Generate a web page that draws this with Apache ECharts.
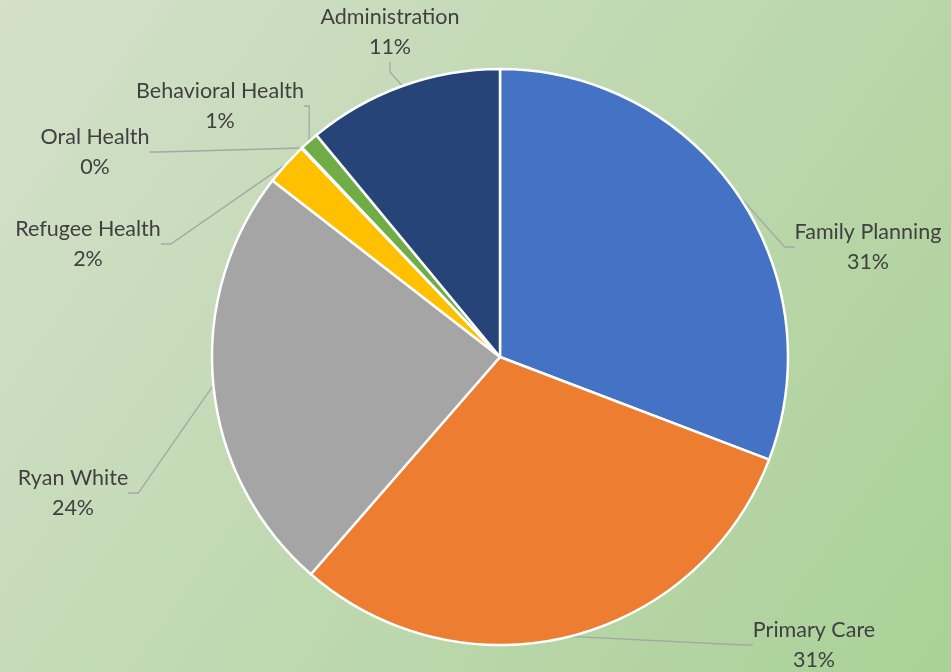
<!DOCTYPE html>
<html>
<head>
<meta charset="utf-8">
<script src="https://cdn.jsdelivr.net/npm/echarts@6/dist/echarts.min.js"></script>
<style>
html,body{margin:0;padding:0;}
#chart{width:951px;height:672px;}
</style>
</head>
<body>
<div id="chart"></div>
<script>
const categories = ['Family Planning','Primary Care','Ryan White','Refugee Health','Oral Health','Behavioral Health','Administration'];
const values = [30.8, 30.6, 24.1, 2.4, 0.05, 1.05, 11.0];
const colors = ['#4472C4','#ED7D31','#A5A5A5','#FFC000','#5B9BD5','#70AD47','#264478'];
// label block centres (layout only)
const labelSpots = [[868,247],[814,645],[73,493],[88,244],[95,152],[220,106],[390,32]];

const chart = echarts.init(document.getElementById('chart'), null, {renderer:'canvas'});
chart.setOption({
  animation:false,
  backgroundColor: new echarts.graphic.LinearGradient(0,0,1,1,[
    {offset:0,color:'#d4e0ca'},
    {offset:1,color:'#aad197'}
  ]),
  series:[{
    type:'pie',
    center:[500,357],
    radius:[0,288],
    startAngle:90,
    clockwise:true,
    minAngle:0,
    avoidLabelOverlap:false,
    itemStyle:{borderColor:'#ffffff',borderWidth:2.5},
    data: categories.map((c,i)=>({name:c,value:values[i],itemStyle:{color:colors[i]}})),
    label:{
      show:true,
      formatter: p => p.name + '\n' + Math.round(p.percent) + '%',
      color:'#404040',
      fontFamily:'Lato',
      fontSize:21.5,
      lineHeight:30,
      align:'center'
    },
    labelLine:{show:true,length:20,length2:10,lineStyle:{color:'#a6a6a6',width:1.3}},
    labelLayout: function(params){
      const p = labelSpots[params.dataIndex];
      return {x:p[0], y:p[1], align:'center', verticalAlign:'middle'};
    }
  }]
});
</script>
</body>
</html>
